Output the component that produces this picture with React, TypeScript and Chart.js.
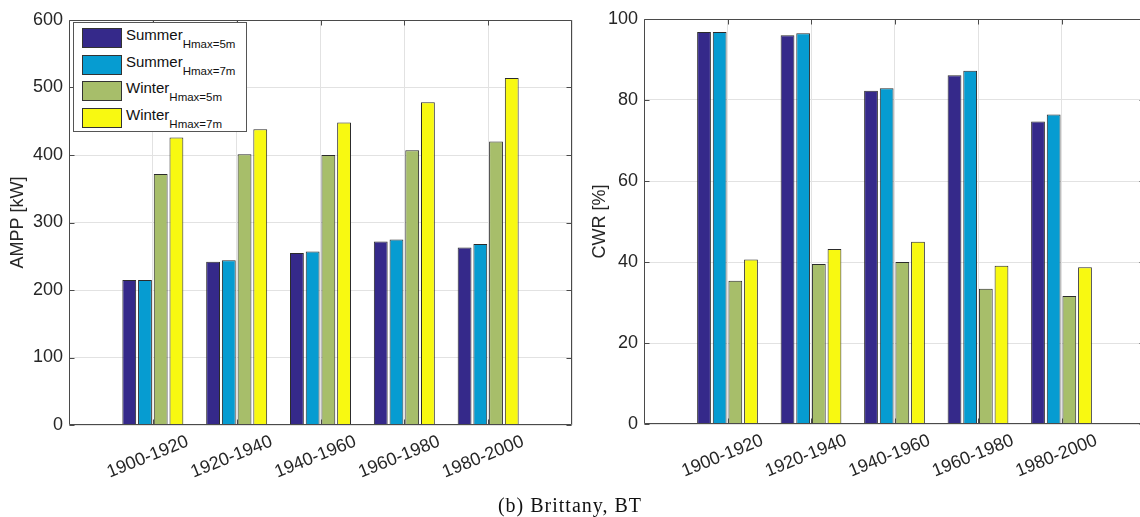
import React, { useEffect, useRef } from 'react';
import { Chart, registerables } from 'chart.js';

Chart.register(...registerables);

// ---------- data ----------
const periods = ['1900-1920', '1920-1940', '1940-1960', '1960-1980', '1980-2000'];

const seriesBase = ['Summer', 'Summer', 'Winter', 'Winter'];
const seriesSub = ['Hmax=5m', 'Hmax=7m', 'Hmax=5m', 'Hmax=7m'];

const amppSummer5 = [215, 242, 255, 272, 263];
const amppSummer7 = [215, 244, 257, 275, 268];
const amppWinter5 = [372, 401, 400, 407, 420];
const amppWinter7 = [426, 438, 448, 478, 514];

const cwrSummer5 = [96.8, 96.0, 82.3, 86.1, 74.7];
const cwrSummer7 = [96.8, 96.5, 82.9, 87.2, 76.4];
const cwrWinter5 = [35.4, 39.5, 40.0, 33.4, 31.6];
const cwrWinter7 = [40.6, 43.2, 45.0, 39.1, 38.7];

const amppTicks = [0, 100, 200, 300, 400, 500, 600];
const cwrTicks = [0, 20, 40, 60, 80, 100];

const amppTitle = 'AMPP [kW]';
const cwrTitle = 'CWR [%]';
const caption = '(b) Brittany, BT';

// ---------- styles ----------
const seriesColors = ['#35298A', '#069CD1', '#A7BE6A', '#F8F911'];
const SANS = '"Liberation Sans", Arial, Helvetica, sans-serif';
const TEXT = '#262626';
const GRID = '#e2e2e2';
const H = 517;

const boxPlugin = {
  id: 'matlabBox',
  afterDatasetsDraw(chart: any) {
    const { ctx, chartArea } = chart;
    const { left, right, top, bottom } = chartArea;
    const ys = chart.scales.y;
    const xs = chart.scales.x;
    ctx.save();
    ctx.strokeStyle = '#4a4a4a';
    ctx.lineWidth = 1;
    const L = Math.round(left) + 0.5;
    const R = Math.round(right) - 0.5;
    const T = Math.round(top) + 0.5;
    const B = Math.round(bottom) - 0.5;
    ctx.beginPath();
    ctx.rect(L, T, R - L, B - T);
    ctx.stroke();
    ctx.beginPath();
    ys.ticks.forEach((t: any) => {
      const y = Math.round(ys.getPixelForValue(t.value)) + 0.5;
      ctx.moveTo(L, y);
      ctx.lineTo(L + 5, y);
      ctx.moveTo(R, y);
      ctx.lineTo(R - 5, y);
    });
    for (let i = 1; i <= periods.length; i++) {
      const x = Math.round(xs.getPixelForValue(i)) + 0.5;
      ctx.moveTo(x, B);
      ctx.lineTo(x, B - 5);
      ctx.moveTo(x, T);
      ctx.lineTo(x, T + 5);
    }
    ctx.stroke();
    ctx.restore();
  },
};

const xLabelPlugin = {
  id: 'rotatedXLabels',
  afterDraw(chart: any) {
    const { ctx, chartArea } = chart;
    const xs = chart.scales.x;
    ctx.save();
    ctx.font = `18px ${SANS}`;
    ctx.fillStyle = TEXT;
    ctx.textAlign = 'center';
    ctx.textBaseline = 'middle';
    periods.forEach((lab, i) => {
      const x = xs.getPixelForValue(i + 1) - 5;
      const y = chartArea.bottom + 32;
      ctx.save();
      ctx.translate(x, y);
      ctx.rotate((-22 * Math.PI) / 180);
      ctx.fillText(lab, 0, 0);
      ctx.restore();
    });
    ctx.restore();
  },
};

type PanelProps = {
  left: number;
  width: number;
  areaLeft: number;
  areaRight: number;
  areaTop: number;
  areaBottom: number;
  series: number[][];
  yTicks: number[];
  yTitle: string;
  titlePad: number;
};

function BarPanel(p: PanelProps) {
  const ref = useRef<HTMLCanvasElement>(null);
  useEffect(() => {
    const canvas = ref.current!;
    const chart = new Chart(canvas, {
      type: 'bar',
      data: {
        labels: ['', ...periods, ''],
        datasets: p.series.map((v, i) => ({
          label: seriesBase[i] + ' ' + seriesSub[i],
          data: [null, ...v, null],
          backgroundColor: seriesColors[i],
          borderColor: '#2b2b2b',
          borderWidth: 1,
          categoryPercentage: 0.75,
          barPercentage: 0.88,
        })),
      },
      options: {
        animation: false,
        responsive: false,
        maintainAspectRatio: false,
        layout: { padding: { left: 0, top: p.areaTop, right: p.width - p.areaRight, bottom: 0 } },
        plugins: { legend: { display: false }, tooltip: { enabled: false } },
        scales: {
          x: {
            type: 'category',
            offset: false,
            grid: { color: GRID, drawTicks: false, offset: false },
            border: { display: false },
            ticks: { display: false },
            afterFit: (s: any) => {
              s.height = H - p.areaBottom;
            },
          },
          y: {
            min: p.yTicks[0],
            max: p.yTicks[p.yTicks.length - 1],
            afterBuildTicks: (s: any) => {
              s.ticks = p.yTicks.map((v) => ({ value: v }));
            },
            grid: { color: GRID, drawTicks: false },
            border: { display: false },
            ticks: { padding: 6, color: TEXT, font: { family: SANS, size: 18 } },
            title: {
              display: true,
              text: p.yTitle,
              color: TEXT,
              font: { family: SANS, size: 18 },
              padding: { top: p.titlePad, bottom: 0 },
            },
            afterFit: (s: any) => {
              s.width = p.areaLeft;
            },
          },
        },
      } as any,
      plugins: [boxPlugin, xLabelPlugin],
    });
    return () => chart.destroy();
  }, []);
  return (
    <canvas
      ref={ref}
      width={p.width}
      height={H}
      style={{ position: 'absolute', left: p.left, top: 0, width: p.width, height: H }}
    />
  );
}

function Legend() {
  const rowTops = [5, 31.5, 58, 84.5];
  return (
    <div
      style={{
        position: 'absolute',
        left: 73,
        top: 22,
        width: 174,
        height: 110,
        boxSizing: 'border-box',
        border: '1px solid #555',
        background: '#fff',
        fontFamily: SANS,
        color: '#111',
      }}
    >
      {seriesBase.map((name, i) => (
        <React.Fragment key={i}>
          <div
            style={{
              position: 'absolute',
              left: 8,
              top: rowTops[i],
              width: 40,
              height: 20,
              boxSizing: 'border-box',
              border: '1px solid #333',
              background: seriesColors[i],
            }}
          />
          <div
            style={{
              position: 'absolute',
              left: 52,
              top: rowTops[i] - 3,
              fontSize: 15,
              lineHeight: '20px',
              whiteSpace: 'nowrap',
            }}
          >
            {name}
            <span style={{ fontSize: 11.5, position: 'relative', top: 8 }}>{seriesSub[i]}</span>
          </div>
        </React.Fragment>
      ))}
    </div>
  );
}

export default function App() {
  return (
    <div
      style={{
        position: 'fixed',
        left: 0,
        top: 0,
        width: 1140,
        height: H,
        overflow: 'hidden',
        background: '#fff',
      }}
    >
      <BarPanel
        left={0}
        width={600}
        areaLeft={69}
        areaRight={572}
        areaTop={20}
        areaBottom={425}
        series={[amppSummer5, amppSummer7, amppWinter5, amppWinter7]}
        yTicks={amppTicks}
        yTitle={amppTitle}
        titlePad={7}
      />
      <BarPanel
        left={580}
        width={600}
        areaLeft={64}
        areaRight={565}
        areaTop={19}
        areaBottom={424}
        series={[cwrSummer5, cwrSummer7, cwrWinter5, cwrWinter7]}
        yTicks={cwrTicks}
        yTitle={cwrTitle}
        titlePad={9}
      />
      <Legend />
      <div
        style={{
          position: 'absolute',
          left: 0,
          width: 1140,
          top: 493,
          textAlign: 'center',
          fontFamily: '"Liberation Serif", "Times New Roman", serif',
          fontSize: 20,
          letterSpacing: 1,
          color: '#111',
          lineHeight: '24px',
        }}
      >
        {caption}
      </div>
    </div>
  );
}
